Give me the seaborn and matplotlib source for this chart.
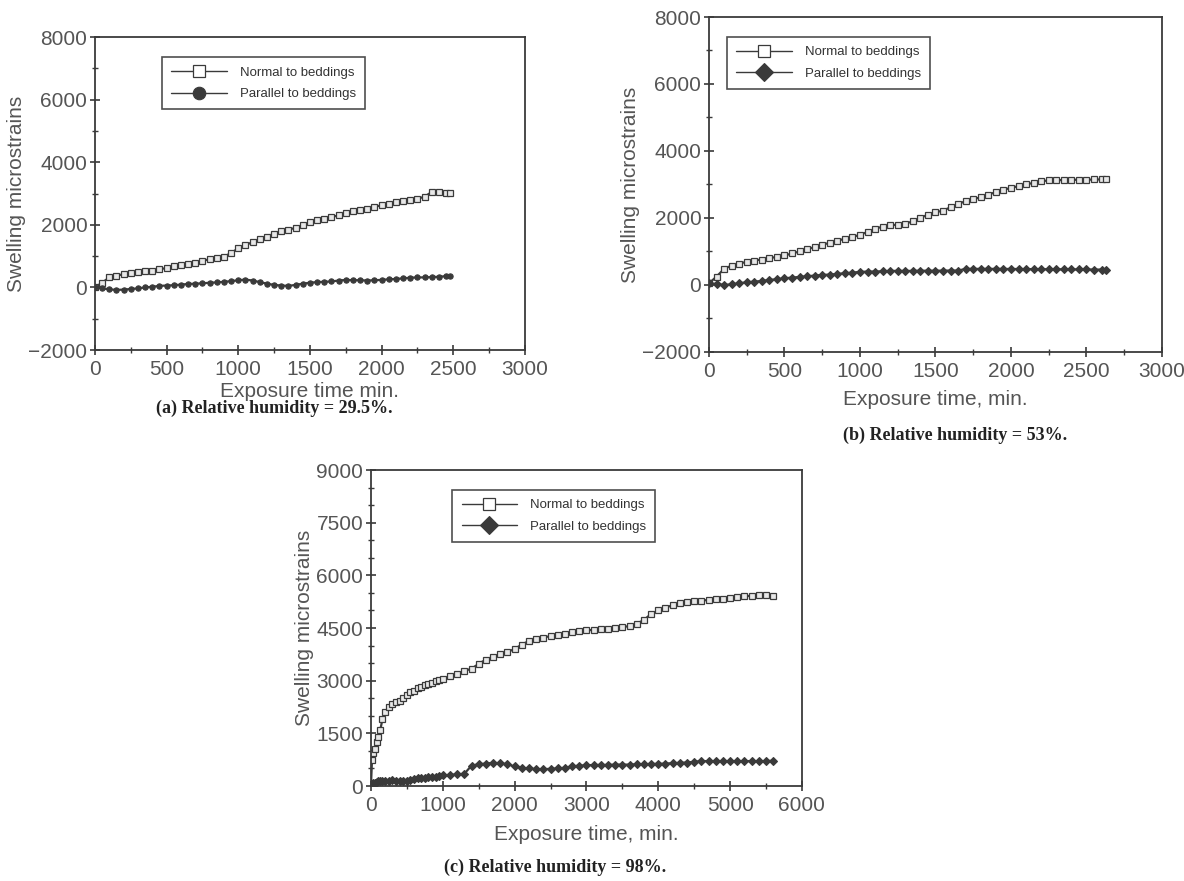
import numpy as np
import pandas as pd
import matplotlib
matplotlib.use("Agg")
import matplotlib.pyplot as plt
import seaborn as sns
from matplotlib.ticker import MultipleLocator

# (a) RH = 29.5 %
time_a = [0, 50, 100, 150, 200, 250, 300, 350, 400, 450, 500, 550, 600, 650, 700, 750, 800, 850,
          900, 950, 1000, 1050, 1100, 1150, 1200, 1250, 1300, 1350, 1400, 1450, 1500, 1550, 1600,
          1650, 1700, 1750, 1800, 1850, 1900, 1950, 2000, 2050, 2100, 2150, 2200, 2250, 2300,
          2350, 2400, 2450, 2480]
normal_a = [0, 150, 320, 380, 420, 450, 480, 520, 540, 580, 620, 680, 720, 740, 780, 850, 900, 940,
            980, 1100, 1250, 1350, 1450, 1550, 1620, 1720, 1800, 1850, 1900, 1980, 2080, 2150, 2200,
            2250, 2300, 2380, 2430, 2480, 2520, 2580, 2620, 2680, 2720, 2750, 2790, 2830, 2900,
            3050, 3050, 3020, 3020]
parallel_a = [0, -30, -60, -80, -70, -50, -30, 0, 20, 50, 60, 70, 90, 110, 120, 130, 150, 160,
              180, 200, 230, 250, 220, 170, 120, 80, 60, 50, 80, 120, 150, 170, 180,
              190, 220, 240, 230, 230, 220, 230, 240, 260, 270, 290, 310, 320, 320,
              330, 340, 360, 350]

# (b) RH = 53 %
time_b = [0, 50, 100, 150, 200, 250, 300, 350, 400, 450, 500, 550, 600, 650, 700, 750, 800, 850,
          900, 950, 1000, 1050, 1100, 1150, 1200, 1250, 1300, 1350, 1400, 1450, 1500, 1550, 1600,
          1650, 1700, 1750, 1800, 1850, 1900, 1950, 2000, 2050, 2100, 2150, 2200, 2250, 2300,
          2350, 2400, 2450, 2500, 2550, 2600, 2630]
normal_b = [50, 250, 480, 580, 640, 690, 730, 760, 800, 840, 880, 940, 1000, 1070, 1130, 1200, 1260,
            1320, 1380, 1430, 1500, 1580, 1680, 1740, 1780, 1800, 1830, 1900, 2000, 2100, 2170,
            2220, 2320, 2420, 2500, 2560, 2620, 2700, 2770, 2840, 2900, 2950, 3000, 3050, 3100,
            3120, 3130, 3130, 3140, 3140, 3140, 3150, 3150, 3150]
parallel_b = [50, 30, 0, 20, 50, 80, 100, 120, 150, 170, 200, 220, 240, 260, 280, 300, 310, 330,
              350, 370, 390, 400, 400, 410, 420, 420, 420, 420, 425, 425, 425, 428, 430, 430,
              480, 480, 480, 480, 480, 478, 478, 475, 475, 472, 470, 470, 468, 466, 465, 463,
              462, 460, 460, 460]

# (c) RH = 98 %
time_c = [0, 15, 30, 50, 80, 100, 130, 160, 200, 250, 300, 350, 400, 450, 500, 550, 600, 650, 700,
          750, 800, 850, 900, 950, 1000, 1100, 1200, 1300, 1400, 1500, 1600, 1700, 1800, 1900,
          2000, 2100, 2200, 2300, 2400, 2500, 2600, 2700, 2800, 2900, 3000, 3100, 3200, 3300,
          3400, 3500, 3600, 3700, 3800, 3900, 4000, 4100, 4200, 4300, 4400, 4500, 4600, 4700,
          4800, 4900, 5000, 5100, 5200, 5300, 5400, 5500, 5600]
normal_c = [0, 750, 950, 1050, 1250, 1400, 1600, 1900, 2100, 2250, 2330, 2380, 2430, 2500, 2580,
            2670, 2720, 2780, 2820, 2870, 2900, 2940, 2980, 3020, 3060, 3120, 3200, 3280, 3340,
            3480, 3600, 3680, 3750, 3820, 3900, 4030, 4130, 4200, 4230, 4270, 4300, 4340, 4380,
            4410, 4430, 4450, 4470, 4480, 4500, 4520, 4560, 4620, 4730, 4900, 5000, 5080, 5150,
            5200, 5230, 5260, 5280, 5300, 5320, 5340, 5360, 5380, 5400, 5420, 5430, 5440, 5400]
parallel_c = [0, 60, 90, 100, 120, 130, 140, 145, 150, 155, 160, 155, 150, 145, 140, 170, 200, 215,
              230, 240, 250, 260, 270, 285, 300, 320, 330, 350, 580, 620, 640, 660, 650, 620,
              560, 520, 500, 480, 480, 490, 500, 520, 560, 580, 590, 600, 600, 600, 610, 610,
              610, 620, 620, 630, 630, 640, 650, 660, 670, 690, 710, 710, 710, 710, 710, 710,
              710, 710, 710, 710, 720]

panels = [
    dict(t=time_a, n=normal_a, p=parallel_a, pm="o", rect=[0.0802, 0.6027, 0.3632, 0.3553],
         xlim=(0, 3000), ylim=(-2000, 8000), ymaj=2000, ymin=1000, xmaj=500, xmin=250,
         xlabel="Exposure time min.", xpad=2, leg=(0.137, 0.935),
         title="(a) Relative humidity = 29.5%.", tpos=(0.232, 0.537)),
    dict(t=time_b, n=normal_b, p=parallel_b, pm="D", rect=[0.5988, 0.6005, 0.3826, 0.3802],
         xlim=(0, 3000), ylim=(-2000, 8000), ymaj=2000, ymin=1000, xmaj=500, xmin=250,
         xlabel="Exposure time, min.", xpad=6, leg=(0.614, 0.958),
         title="(b) Relative humidity = 53%.", tpos=(0.807, 0.506)),
    dict(t=time_c, n=normal_c, p=parallel_c, pm="D", rect=[0.3133, 0.1078, 0.3640, 0.3587],
         xlim=(0, 6000), ylim=(0, 9000), ymaj=1500, ymin=500, xmaj=1000, xmin=500,
         xlabel="Exposure time, min.", xpad=7, leg=(0.382, 0.444),
         title="(c) Relative humidity = 98%.", tpos=(0.469, 0.016)),
]

sns.set_style("ticks")
plt.rcParams["font.family"] = ["Liberation Sans", "DejaVu Sans"]
ink = "#3a3a3a"

fig = plt.figure(figsize=(11.84, 8.81), dpi=100)
fig.patch.set_facecolor("white")

for pn in panels:
    ax = fig.add_axes(pn["rect"])
    df = pd.DataFrame({"time": pn["t"], "normal": pn["n"], "parallel": pn["p"]})
    sns.lineplot(data=df, x="time", y="normal", ax=ax, color=ink, lw=1.6, marker="s",
                 markersize=3.8, markerfacecolor="#e8e8e8", markeredgecolor=ink,
                 markeredgewidth=0.9, label="Normal to beddings")
    sns.lineplot(data=df, x="time", y="parallel", ax=ax, color=ink, lw=1.6, marker=pn["pm"],
                 markersize=3.8, markerfacecolor=ink, markeredgecolor=ink,
                 markeredgewidth=0.8, label="Parallel to beddings")
    ax.set_xlim(*pn["xlim"])
    ax.set_ylim(*pn["ylim"])
    ax.xaxis.set_major_locator(MultipleLocator(pn["xmaj"]))
    ax.xaxis.set_minor_locator(MultipleLocator(pn["xmin"]))
    ax.yaxis.set_major_locator(MultipleLocator(pn["ymaj"]))
    ax.yaxis.set_minor_locator(MultipleLocator(pn["ymin"]))
    ax.tick_params(which="major", direction="inout", length=7, width=1.2, colors=ink,
                   labelsize=15, labelcolor="#555555")
    ax.tick_params(which="minor", direction="inout", length=4, width=1.0, colors=ink)
    ax.tick_params(axis="x", pad=4)
    ax.tick_params(axis="y", pad=2)
    for s in ax.spines.values():
        s.set_visible(True)
        s.set_linewidth(1.3)
        s.set_color(ink)
    ax.set_xlabel(pn["xlabel"], fontsize=15, color="#555555", labelpad=pn["xpad"])
    ax.set_ylabel("Swelling microstrains", fontsize=15, color="#555555", labelpad=2)
    leg = ax.legend(loc="upper left", bbox_to_anchor=pn["leg"], bbox_transform=fig.transFigure,
                    fontsize=9.5, frameon=True, fancybox=False, edgecolor="#222222",
                    handlelength=4.2, handletextpad=1.0, borderpad=0.7, labelspacing=0.7,
                    borderaxespad=0)
    leg.get_frame().set_linewidth(1.2)
    for txt in leg.get_texts():
        txt.set_color("#333333")
    for h in leg.legend_handles:
        h.set_markersize(9)
        h.set_linewidth(1.0)
        if h.get_label() == "Normal to beddings":
            h.set_markerfacecolor("white")
    fig.text(pn["tpos"][0], pn["tpos"][1], pn["title"], ha="center", va="center",
             fontsize=13, fontweight="bold", family=["Liberation Serif", "DejaVu Serif"],
             color="#222222")

fig.savefig("out.png", dpi=100, facecolor="white")
